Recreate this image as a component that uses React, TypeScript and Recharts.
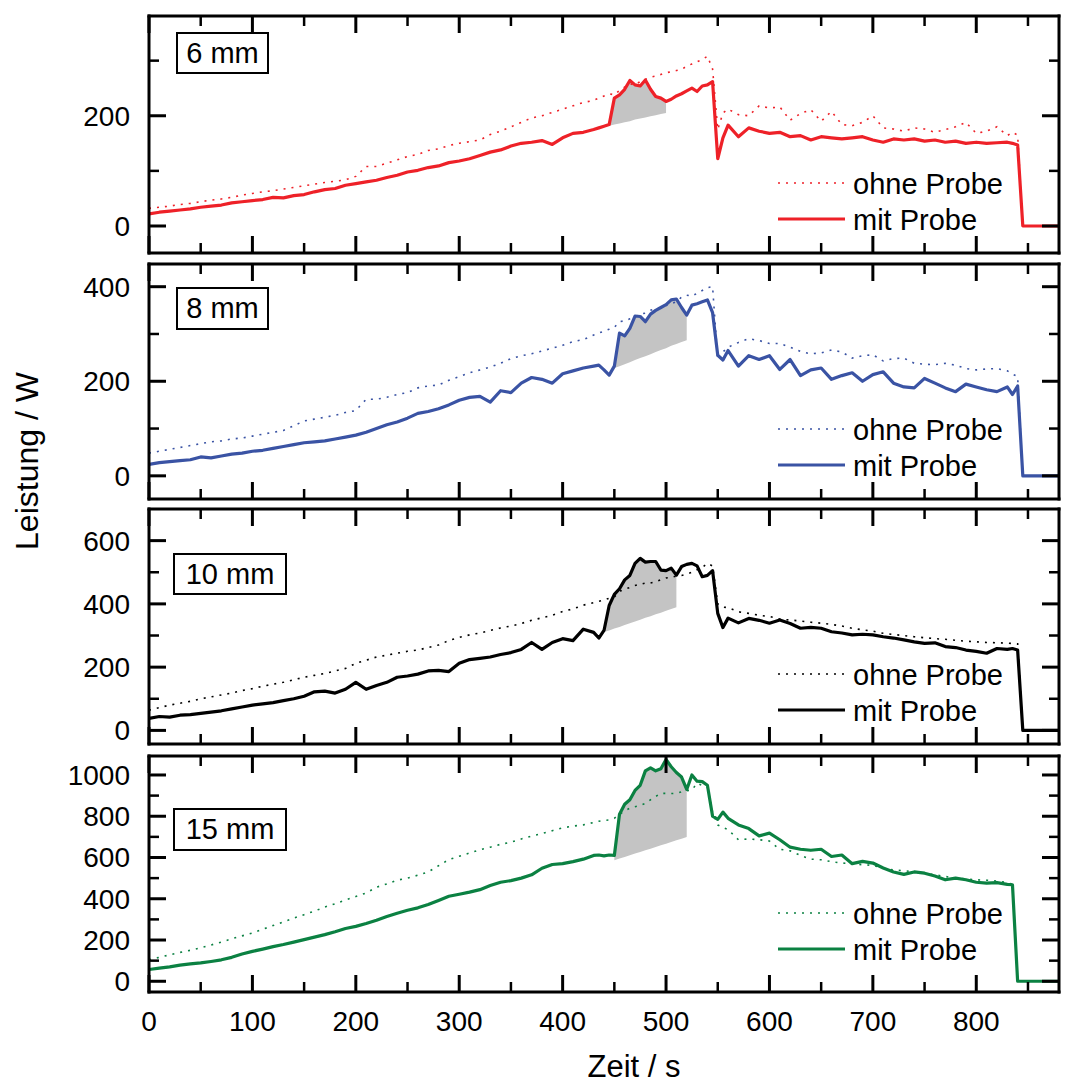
import React from 'react';
import { ComposedChart, Line, Area, XAxis, YAxis, Legend } from 'recharts';

const FONT = "'Liberation Sans', Arial, Helvetica, sans-serif";

// Zeit / s (shared time grid, finer around the jump)
const time = [
  0, 10, 20, 30, 40, 50, 60, 70, 80, 90,
  100, 110, 120, 130, 140, 150, 160, 170, 180, 190,
  200, 210, 220, 230, 240, 250, 260, 270, 280, 290,
  300, 310, 320, 330, 340, 350, 360, 370, 380, 390,
  400, 410, 420, 430,
  435, 440, 445, 450, 455, 460, 465, 470, 475, 480,
  485, 490, 495, 500, 505, 510, 515, 520, 525, 530,
  535, 540, 545, 550, 555, 560,
  570, 580, 590, 600, 610, 620, 630, 640, 650, 660,
  670, 680, 690, 700, 710, 720, 730, 740, 750, 760,
  770, 780, 790, 800, 810, 820, 830,
  835, 840, 845, 850, 880,
];

const xTicks = [0, 50, 100, 150, 200, 250, 300, 350, 400, 450, 500, 550, 600, 650, 700, 750, 800, 850];

const legendOrder = ['ohne Probe', 'mit Probe'];

// 6 mm
const ohne6 = [
  32, 34, 36, 39, 41, 44, 47, 49, 52, 56,
  59, 62, 64, 67, 70, 73, 76, 79, 81, 84,
  90, 108, 108, 114, 120, 126, 130, 137, 140, 146,
  150, 153, 156, 166, 172, 180, 188, 196, 200, 206,
  212, 218, 224, 228,
  232, 236, 240, 238, 246, 252, 258, 256, 262, 266,
  270, 272, 275, 278, 280, 282, 284, 290, 294, 298,
  302, 308, 285, 175, 205, 212,
  202, 200, 218, 214, 216, 192, 204, 211, 190, 208,
  184, 182, 188, 200, 178, 176, 172, 178, 176, 170,
  175, 180, 188, 168, 172, 180, 164,
  170, 165, 0, 0, 0,
];
const mit6 = [
  22, 25, 27, 29, 31, 34, 36, 38, 42, 44,
  46, 48, 52, 51, 55, 57, 62, 66, 68, 74,
  77, 80, 83, 88, 92, 98, 101, 106, 109, 115,
  118, 122, 128, 134, 138, 145, 150, 152, 155, 148,
  160, 168, 170, 175,
  178, 181, 184, 232, 238, 248, 264, 256, 254, 265,
  248, 235, 232, 226, 230, 236, 240, 245, 250, 244,
  254, 256, 262, 122, 160, 183,
  162, 178, 172, 168, 170, 162, 164, 156, 162, 160,
  158, 160, 162, 156, 152, 158, 156, 158, 154, 156,
  152, 154, 150, 152, 150, 151, 152,
  150, 147, 0, 0, 0,
];
const shade6Time = [445, 450, 455, 460, 465, 470, 475, 480, 485, 490, 495, 500];
const shade6Low = [182, 184, 186, 188, 190, 193, 195, 197, 199, 201, 203, 205];

// 8 mm
const ohne8 = [
  48, 52, 56, 60, 64, 68, 72, 74, 78, 80,
  84, 88, 92, 96, 106, 116, 120, 124, 128, 134,
  138, 162, 162, 166, 172, 176, 186, 190, 192, 202,
  210, 218, 224, 230, 238, 248, 254, 258, 264, 270,
  276, 284, 288, 298,
  302, 306, 310, 314, 326, 328, 332, 336, 342, 344,
  350, 354, 356, 360, 364, 368, 378, 382, 380, 386,
  392, 398, 400, 245, 262, 272,
  282, 290, 286, 280, 280, 272, 263, 258, 260, 266,
  262, 249, 254, 256, 243, 248, 249, 238, 236, 235,
  238, 234, 227, 224, 226, 227, 222,
  215, 210, 0, 0, 0,
];
const mit8 = [
  24, 28, 30, 32, 34, 40, 38, 42, 46, 48,
  52, 54, 58, 62, 66, 70, 72, 74, 78, 82,
  86, 92, 100, 108, 114, 122, 132, 136, 142, 150,
  160, 166, 168, 156, 180, 176, 196, 208, 204, 196,
  216, 222, 228, 232,
  234, 224, 213, 232, 302, 296, 312, 338, 337, 326,
  342, 350, 356, 362, 372, 374, 356, 340, 361, 364,
  368, 372, 345, 255, 245, 265,
  232, 254, 246, 254, 225, 246, 212, 224, 228, 204,
  212, 218, 200, 214, 220, 196, 188, 186, 206, 196,
  186, 178, 194, 188, 182, 178, 188,
  172, 190, 0, 0, 0,
];
const shade8Time = [450, 455, 460, 465, 470, 475, 480, 485, 490, 495, 500, 505, 510, 515, 520];
const shade8Low = [228, 232, 236, 240, 245, 249, 253, 257, 262, 266, 270, 275, 279, 283, 287];

// 10 mm
const ohne10 = [
  64, 72, 80, 86, 92, 100, 106, 112, 118, 126,
  132, 140, 146, 152, 160, 168, 174, 180, 188, 196,
  212, 222, 232, 238, 244, 250, 254, 262, 270, 284,
  294, 302, 308, 316, 324, 330, 338, 348, 356, 364,
  376, 384, 396, 404,
  408, 412, 418, 422, 440, 446, 452, 458, 462, 466,
  466, 470, 476, 482, 484, 488, 490, 494, 500, 508,
  515, 528, 520, 400, 390, 388,
  375, 370, 364, 360, 352, 349, 346, 342, 339, 335,
  330, 323, 318, 314, 307, 303, 300, 296, 293, 290,
  288, 285, 282, 280, 278, 277, 276,
  275, 274, 0, 0, 0,
];
const mit10 = [
  38, 44, 42, 48, 50, 54, 58, 62, 68, 74,
  80, 84, 88, 94, 100, 108, 122, 124, 118, 130,
  152, 130, 142, 152, 168, 172, 178, 188, 190, 186,
  212, 224, 228, 232, 240, 246, 256, 278, 256, 278,
  290, 284, 320, 310,
  292, 316, 395, 430, 448, 476, 490, 528, 544, 532,
  534, 534, 507, 505, 513, 491, 518, 525, 528, 520,
  486, 490, 505, 370, 325, 355,
  340, 354, 348, 339, 349, 338, 323, 326, 323, 312,
  308, 302, 304, 302, 296, 292, 286, 280, 275, 277,
  265, 262, 254, 250, 244, 259, 256,
  259, 254, 0, 0, 0,
];
const shade10Time = [440, 445, 450, 455, 460, 465, 470, 475, 480, 485, 490, 495, 500, 505, 510];
const shade10Low = [311, 316, 322, 327, 333, 339, 344, 350, 356, 361, 367, 372, 378, 384, 389];

// 15 mm
const ohne15 = [
  105, 116, 128, 140, 150, 162, 176, 190, 206, 220,
  234, 252, 270, 288, 306, 323, 340, 360, 376, 394,
  411, 428, 456, 472, 490, 500, 514, 530, 560, 590,
  606, 622, 637, 650, 664, 674, 690, 704, 716, 730,
  744, 752, 758, 770,
  776, 780, 782, 790, 810, 826, 839, 846, 852, 862,
  880, 896, 911, 911, 910, 911, 918, 924, 927, 960,
  950, 943, 820, 758, 745, 735,
  686, 690, 686, 680, 640, 632, 610, 592, 589, 580,
  573, 570, 565, 562, 548, 540, 536, 530, 524, 516,
  508, 500, 496, 492, 490, 486, 478,
  470, 0, 0, 0, 0,
];
const mit15 = [
  57, 64, 70, 78, 84, 89, 96, 104, 116, 132,
  145, 156, 168, 178, 190, 202, 214, 226, 240, 256,
  266, 280, 296, 314, 330, 344, 356, 372, 392, 412,
  422, 432, 444, 464, 480, 488, 500, 516, 548, 566,
  570, 580, 592, 610,
  612, 608, 612, 610, 810, 858, 880, 925, 950, 1020,
  1035, 1020, 1030, 1075, 1040, 1012, 990, 930, 1000, 970,
  968, 950, 800, 785, 820, 790,
  758, 740, 705, 718, 686, 650, 640, 635, 640, 605,
  612, 570, 581, 573, 549, 530, 518, 530, 524, 510,
  492, 500, 492, 480, 476, 478, 470,
  468, 0, 0, 0, 0,
];
const shade15Time = [450, 455, 460, 465, 470, 475, 480, 485, 490, 495, 500, 505, 510, 515, 520];
const shade15Low = [587, 595, 603, 611, 619, 627, 635, 643, 651, 659, 667, 675, 683, 691, 699];

const LEFT = 149;
const RIGHT = 1059;
const W = 1070;

const buildRows = (ohne: number[], mit: number[], sTime: number[], sLow: number[]) =>
  time.map((t, i) => {
    const k = sTime.indexOf(t);
    return { t, ohne: ohne[i], mit: mit[i], shade: k >= 0 ? [sLow[k], mit[i]] : null };
  });

const tickText = (x: number, y: number, anchor: 'end' | 'middle', v: number) => (
  <text x={x} y={y} textAnchor={anchor} fontSize={28} fontFamily={FONT} fill="#000">
    {v}
  </text>
);

const leftTick = (props: any) => {
  const { x, y, payload } = props;
  const major = payload.value % 200 === 0;
  return (
    <g>
      <line x1={x} x2={x + (major ? 17 : 10)} y1={y} y2={y} stroke="#000" strokeWidth={major ? 3 : 2.5} />
      {major && tickText(x - 19, y + 10, 'end', payload.value)}
    </g>
  );
};

const rightTick = (props: any) => {
  const { x, y, payload } = props;
  const major = payload.value % 200 === 0;
  return <line x1={x} x2={x - (major ? 17 : 10)} y1={y} y2={y} stroke="#000" strokeWidth={major ? 3 : 2.5} />;
};

const topTick = (props: any) => {
  const { x, y, payload } = props;
  const major = payload.value % 100 === 0;
  return <line x1={x} x2={x} y1={y} y2={y + (major ? 17 : 10)} stroke="#000" strokeWidth={major ? 3 : 2.5} />;
};

const bottomTick = (showLabels: boolean) => (props: any) => {
  const { x, y, payload } = props;
  const major = payload.value % 100 === 0;
  return (
    <g>
      <line x1={x} x2={x} y1={y} y2={y - (major ? 17 : 10)} stroke="#000" strokeWidth={major ? 3 : 2.5} />
      {showLabels && major && tickText(x, y + 38.5, 'middle', payload.value)}
    </g>
  );
};

// legend drawn in the reference order: dotted "ohne" first, then solid "mit"
const legendContent = (color: string) => (props: any) => {
  const items = (props.payload || [])
    .filter((p: any) => p.type !== 'none' && legendOrder.includes(p.value))
    .sort((a: any, b: any) => legendOrder.indexOf(a.value) - legendOrder.indexOf(b.value));
  return (
    <svg width={260} height={80} style={{ display: 'block' }}>
      {items.map((p: any, i: number) => {
        const y = 18 + 36 * i;
        const dotted = p.value === 'ohne Probe';
        return (
          <g key={p.value}>
            <line
              x1={0}
              x2={67}
              y1={y}
              y2={y}
              stroke={color}
              strokeWidth={dotted ? 1.6 : 3.2}
              strokeDasharray={dotted ? '2 6' : undefined}
            />
            <text x={75} y={y + 10.5} fontSize={29} fontFamily={FONT} fill="#000">
              {p.value}
            </text>
          </g>
        );
      })}
    </svg>
  );
};

const axisLine = { stroke: '#000', strokeWidth: 3, strokeLinecap: 'square' as const };

interface PanelProps {
  top: number;
  bottom: number;
  domain: [number, number];
  yTicks: number[];
  ohne: number[];
  mit: number[];
  shadeTime: number[];
  shadeLow: number[];
  color: string;
  legendY: number;
  showXLabels?: boolean;
}

const Panel: React.FC<PanelProps> = ({
  top,
  bottom,
  domain,
  yTicks,
  ohne,
  mit,
  shadeTime,
  shadeLow,
  color,
  legendY,
  showXLabels = false
}) => {
  const rows = buildRows(ohne, mit, shadeTime, shadeLow);
  const topH = 12;
  const bottomH = showXLabels ? 60 : 12;
  const chartTop = top - topH;
  return (
    <div style={{ position: 'absolute', left: 0, top: chartTop }}>
      <ComposedChart
        width={W}
        height={topH + (bottom - top) + bottomH}
        data={rows}
        margin={{ top: 0, right: 0, bottom: 0, left: 0 }}
      >
        <XAxis
          dataKey="t"
          type="number"
          domain={[0, 880]}
          ticks={xTicks}
          interval={0}
          allowDataOverflow
          height={bottomH}
          tickSize={0}
          tickMargin={0}
          tickLine={false}
          axisLine={axisLine}
          tick={bottomTick(showXLabels)}
        />
        <XAxis
          xAxisId="top"
          orientation="top"
          dataKey="t"
          type="number"
          domain={[0, 880]}
          ticks={xTicks}
          interval={0}
          allowDataOverflow
          height={topH}
          tickSize={0}
          tickMargin={0}
          tickLine={false}
          axisLine={axisLine}
          tick={topTick}
        />
        <YAxis
          type="number"
          domain={domain}
          ticks={yTicks}
          interval={0}
          allowDataOverflow
          width={LEFT}
          tickSize={0}
          tickMargin={0}
          tickLine={false}
          axisLine={axisLine}
          tick={leftTick}
        />
        <YAxis
          yAxisId="r"
          orientation="right"
          type="number"
          domain={domain}
          ticks={yTicks}
          interval={0}
          allowDataOverflow
          width={W - RIGHT}
          tickSize={0}
          tickMargin={0}
          tickLine={false}
          axisLine={axisLine}
          tick={rightTick}
        />
        <Area
          dataKey="shade"
          stroke="none"
          fill="#c4c4c4"
          fillOpacity={1}
          legendType="none"
          dot={false}
          activeDot={false}
          isAnimationActive={false}
        />
        <Line
          dataKey="ohne"
          name="ohne Probe"
          stroke={color}
          strokeWidth={1.6}
          strokeDasharray="2 6"
          dot={false}
          activeDot={false}
          isAnimationActive={false}
        />
        <Line
          dataKey="mit"
          name="mit Probe"
          stroke={color}
          strokeWidth={3.2}
          strokeLinejoin="round"
          dot={false}
          activeDot={false}
          isAnimationActive={false}
        />
        <Legend
          layout="horizontal"
          verticalAlign="middle"
          align="center"
          wrapperStyle={{ left: 778, top: legendY - 18 - chartTop, width: 260, height: 80 }}
          content={legendContent(color)}
        />
      </ComposedChart>
    </div>
  );
};

const LabelBox: React.FC<{ text: string; left: number; top: number; width: number; height: number }> = ({
  text,
  left,
  top,
  width,
  height
}) => (
  <div
    style={{
      position: 'absolute',
      left,
      top,
      width,
      height,
      boxSizing: 'border-box',
      border: '2px solid #000',
      background: '#fff',
      display: 'flex',
      alignItems: 'center',
      justifyContent: 'center',
      fontFamily: FONT,
      fontSize: 29,
      color: '#000',
      lineHeight: 1
    }}
  >
    {text}
  </div>
);

export default function App() {
  return (
    <div style={{ position: 'absolute', left: 0, top: 0, width: W, height: 1084, background: '#fff', overflow: 'hidden' }}>
      <Panel top={16} bottom={253} domain={[-49, 381]} yTicks={[0, 100, 200, 300]}
        ohne={ohne6} mit={mit6} shadeTime={shade6Time} shadeLow={shade6Low} color="#ee2128" legendY={183} />
      <Panel top={264} bottom={499} domain={[-49, 448]} yTicks={[0, 100, 200, 300, 400]}
        ohne={ohne8} mit={mit8} shadeTime={shade8Time} shadeLow={shade8Low} color="#3a53a4" legendY={429} />
      <Panel top={509} bottom={744} domain={[-43, 700]} yTicks={[0, 100, 200, 300, 400, 500, 600]}
        ohne={ohne10} mit={mit10} shadeTime={shade10Time} shadeLow={shade10Low} color="#000000" legendY={674} />
      <Panel top={756} bottom={992} domain={[-52, 1092]}
        yTicks={[0, 100, 200, 300, 400, 500, 600, 700, 800, 900, 1000]}
        ohne={ohne15} mit={mit15} shadeTime={shade15Time} shadeLow={shade15Low} color="#0b8142" legendY={913} showXLabels />

      <LabelBox text="6 mm" left={176} top={32} width={93} height={42} />
      <LabelBox text="8 mm" left={176} top={287} width={93} height={43} />
      <LabelBox text="10 mm" left={173} top={553} width={114} height={42} />
      <LabelBox text="15 mm" left={173} top={808} width={114} height={43} />

      <svg width={W} height={1084} style={{ position: 'absolute', left: 0, top: 0, pointerEvents: 'none' }}>
        <text x={38} y={461} transform="rotate(-90 38 461)" textAnchor="middle" fontSize={32} fontFamily={FONT} fill="#000">
          Leistung / W
        </text>
        <text x={634} y={1077} textAnchor="middle" fontSize={31} fontFamily={FONT} fill="#000">
          Zeit / s
        </text>
      </svg>
    </div>
  );
}
